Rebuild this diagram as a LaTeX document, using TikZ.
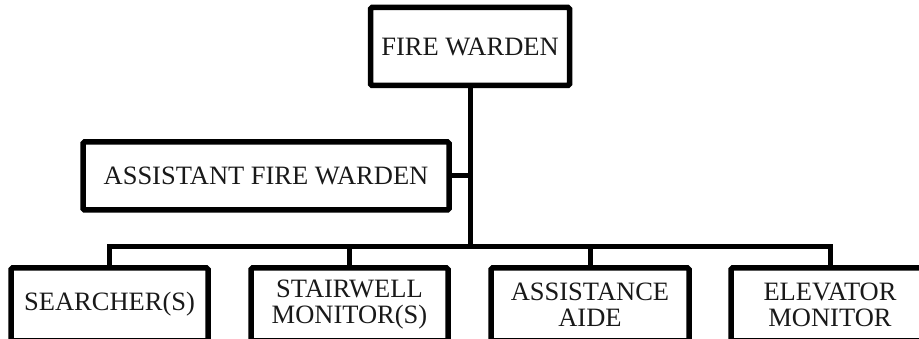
\documentclass[tikz,border=0pt]{standalone}
\usepackage{fontspec}
\setmainfont{Liberation Serif}
\begin{document}
\begin{tikzpicture}[x=1pt,y=1pt,
  rolebox/.style={draw=black, line width=5.5pt, rounded corners=1.5pt, fill=white,
    align=center, inner sep=0pt, outer sep=0pt,
    font=\fontsize{26.5}{26}\selectfont, text=black!90},
  link/.style={draw=black, line width=5pt}]
\useasboundingbox (0,0) rectangle (919,339);

% top of the chart
\node[rolebox, minimum width=199pt, minimum height=78pt] (fw) at (470,292.5) {FIRE WARDEN};
\node[rolebox, minimum width=366pt, minimum height=68pt] (afw) at (266,163) {ASSISTANT FIRE WARDEN};

% bottom row
\node[rolebox, minimum width=197pt, minimum height=73pt] (srch) at (109.5,34.5) {SEARCHER(S)};
\node[rolebox, minimum width=197pt, minimum height=73pt] (stair) at (349.5,34.5) {STAIRWELL\\MONITOR(S)};
\node[rolebox, minimum width=198pt, minimum height=73pt] (aide) at (590,34.5) {ASSISTANCE\\AIDE};
\node[rolebox, minimum width=198pt, minimum height=73pt] (elev) at (830,34.5) {ELEVATOR\\MONITOR};

% connectors
\coordinate (busy) at (0,92.5);
\draw[link] (fw.south) -- (fw.south |- busy);
\draw[link] (afw.east) -- (afw.east -| fw.south);
\draw[link] (srch.north) |- (elev.north |- busy) -- (elev.north);
\draw[link] (stair.north) -- (stair.north |- busy);
\draw[link] (aide.north) -- (aide.north |- busy);
\end{tikzpicture}
\end{document}
